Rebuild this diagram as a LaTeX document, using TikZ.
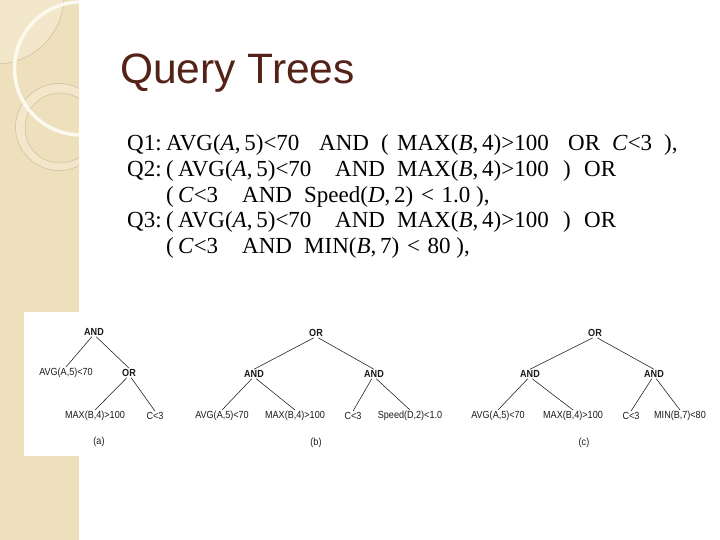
\documentclass[tikz,border=0pt]{standalone}
\usepackage{fontspec}
\setmainfont{Liberation Serif}
\setsansfont{Liberation Sans}
\newfontfamily\treefont[FakeStretch=0.88]{Liberation Sans}
\definecolor{beige}{RGB}{238,224,188}
\definecolor{beigelight}{RGB}{242,231,203}
\definecolor{beigeline}{RGB}{205,188,150}
\definecolor{cream}{RGB}{252,249,238}
\definecolor{titlebrown}{RGB}{84,34,24}
\definecolor{treeink}{RGB}{25,25,25}
\newcommand\tok[2]{\makebox[#1pt][l]{#2}}
\newcommand\vi[1]{\textit{#1}}
\begin{document}
\begin{tikzpicture}[x=1pt,y=-1pt,
  leaf/.style={font=\treefont\fontsize{10.3}{12}\selectfont, text=treeink, inner sep=1pt},
  op/.style={font=\treefont\bfseries\fontsize{10.3}{12}\selectfont, text=treeink, inner sep=1pt},
  qline/.style={anchor=base west, inner sep=0pt, font=\fontsize{23}{25.6}\selectfont},
  edge/.style={line width=0.55pt, draw=treeink}]
\fill[white] (0,0) rectangle (720,540);
\useasboundingbox (0,0) rectangle (720,540);
% decorative stripe
\fill[beige] (0,0) rectangle (79,540);
\begin{scope}
  \clip (0,0) rectangle (79,540);
  \fill[beigelight] (-4,-4) circle (68);
  \draw[beigeline, line width=0.5pt] (-4,-4) circle (68);
  \fill[beigelight, even odd rule] (59,127) circle (43.5) (60,128) circle (35);
  \draw[beigeline, line width=0.5pt] (59,127) circle (43.5) (60,128) circle (35);
  \draw[cream, line width=3.5pt] (81,68.5) circle (66.5);
\end{scope}
\fill[white] (24,312) rectangle (80,456);
% title
\node[anchor=base west, inner sep=0pt, text=titlebrown,
      font=\sffamily\fontsize{42.5}{50}\selectfont] (title) at (120,84) {Query Trees};
% queries
\node[qline] (q1) at (127,151) {\tok{39}{Q1:}\tok{153}{AVG(\vi{A},\,5)<70}\tok{62}{AND}\tok{16}{(}\tok{171}{MAX(\vi{B},\,4)>100}\tok{44}{OR}\tok{52}{\vi{C}<3}),};
\node[qline] (q2) at (127,176.6) {\tok{39}{Q2:}\tok{12}{(}\tok{157}{AVG(\vi{A},\,5)<70}\tok{62}{AND}\tok{166}{MAX(\vi{B},\,4)>100}\tok{21}{)}OR};
\node[qline] (q2b) at (166,202.2) {\tok{12}{(}\tok{64}{\vi{C}<3}\tok{62}{AND}Speed(\vi{D},\,2)\,\,<\,\,1.0 ),};
\node[qline] (q3) at (127,227.8) {\tok{39}{Q3:}\tok{12}{(}\tok{157}{AVG(\vi{A},\,5)<70}\tok{62}{AND}\tok{166}{MAX(\vi{B},\,4)>100}\tok{21}{)}OR};
\node[qline] (q3b) at (166,253.4) {\tok{12}{(}\tok{64}{\vi{C}<3}\tok{62}{AND}MIN(\vi{B},\,7)\,\,<\,\,80 ),};
% tree (a)
\node[op] (aAND) at (94,332) {AND};
\node[leaf] (aAVG) at (66,373) {AVG(A,5)<70};
\node[op] (aOR) at (129,373) {OR};
\node[leaf] (aMAX) at (95,416) {MAX(B,4)>100};
\node[leaf] (aC) at (155,416) {C<3};
\node[leaf] (aLab) at (99,442) {(a)};
\draw[edge] (aAND.-115) -- (aAVG.north);
\draw[edge] (aAND.-65) -- (aOR.north);
\draw[edge] (aOR.-115) -- (aMAX.north);
\draw[edge] (aOR.-65) -- (aC.north);
% tree (b)
\node[op] (bOR) at (316,333) {OR};
\node[op] (bANDl) at (254,374) {AND};
\node[op] (bANDr) at (374,374) {AND};
\node[leaf] (bAVG) at (222,416) {AVG(A,5)<70};
\node[leaf] (bMAX) at (295,416) {MAX(B,4)>100};
\node[leaf] (bC) at (353,416) {C<3};
\node[leaf] (bSp) at (410,416) {Speed(D,2)<1.0};
\node[leaf] (bLab) at (316,443) {(b)};
\draw[edge] (bOR.-115) -- (bANDl.north);
\draw[edge] (bOR.-65) -- (bANDr.north);
\draw[edge] (bANDl.-115) -- (bAVG.north);
\draw[edge] (bANDl.-65) -- (bMAX.north);
\draw[edge] (bANDr.-115) -- (bC.north);
\draw[edge] (bANDr.-65) -- (bSp.north);
% tree (c)
\node[op] (cOR) at (595,333) {OR};
\node[op] (cANDl) at (530,374) {AND};
\node[op] (cANDr) at (654,374) {AND};
\node[leaf] (cAVG) at (498,416) {AVG(A,5)<70};
\node[leaf] (cMAX) at (573,416) {MAX(B,4)>100};
\node[leaf] (cC) at (631,416) {C<3};
\node[leaf] (cMIN) at (680,416) {MIN(B,7)<80};
\node[leaf] (cLab) at (584,443) {(c)};
\draw[edge] (cOR.-115) -- (cANDl.north);
\draw[edge] (cOR.-65) -- (cANDr.north);
\draw[edge] (cANDl.-115) -- (cAVG.north);
\draw[edge] (cANDl.-65) -- (cMAX.north);
\draw[edge] (cANDr.-115) -- (cC.north);
\draw[edge] (cANDr.-65) -- (cMIN.north);
\end{tikzpicture}
\end{document}
